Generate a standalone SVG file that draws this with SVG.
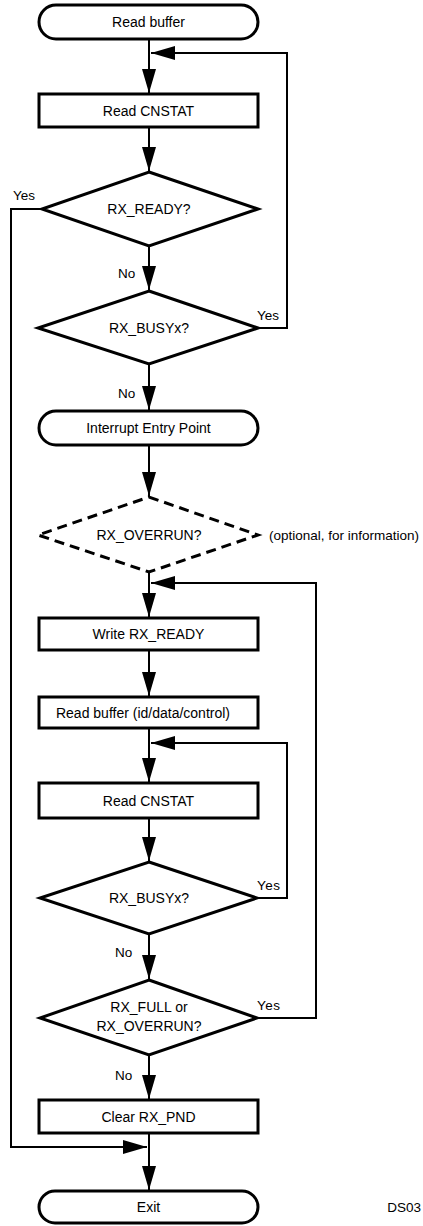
<svg xmlns="http://www.w3.org/2000/svg" width="423" height="1226" viewBox="0 0 423 1226">
<style>
  .shape { fill: #fff; stroke: #000; stroke-width: 3; stroke-linejoin: miter; }
  .dashed { fill: none; stroke: #000; stroke-width: 3; stroke-dasharray: 10 6; }
  .conn { fill: none; stroke: #000; stroke-width: 2; }
  .t { font-family: "Liberation Sans", Arial, sans-serif; font-size: 14px; fill: #000; }
  .l { font-family: "Liberation Sans", Arial, sans-serif; font-size: 13.5px; fill: #000; }
  .c { text-anchor: middle; }
</style>
<defs>
  <marker id="arr" markerUnits="userSpaceOnUse" markerWidth="24" markerHeight="14" refX="24" refY="7" orient="auto">
    <path d="M0,0 L24,7 L0,14 z" fill="#000"/>
  </marker>
</defs>
<rect width="423" height="1226" fill="#fff"/>
<g id="connectors">
  <line class="conn" x1="149" y1="39" x2="149" y2="93" marker-end="url(#arr)"/>
  <line class="conn" x1="149" y1="127" x2="149" y2="171" marker-end="url(#arr)"/>
  <line class="conn" x1="149" y1="246" x2="149" y2="290" marker-end="url(#arr)"/>
  <polyline class="conn" points="258,328 287,328 287,53 151,53" marker-end="url(#arr)"/>
  <polyline class="conn" points="42,209 11,209 11,1147 147,1147" marker-end="url(#arr)"/>
  <line class="conn" x1="149" y1="364" x2="149" y2="410" marker-end="url(#arr)"/>
  <line class="conn" x1="149" y1="445" x2="149" y2="496" marker-end="url(#arr)"/>
  <line class="conn" x1="149" y1="572" x2="149" y2="617" marker-end="url(#arr)"/>
  <polyline class="conn" points="257,1018 316,1018 316,583 151,583" marker-end="url(#arr)"/>
  <line class="conn" x1="149" y1="650" x2="149" y2="696" marker-end="url(#arr)"/>
  <line class="conn" x1="149" y1="728" x2="149" y2="782" marker-end="url(#arr)"/>
  <polyline class="conn" points="257,898 287,898 287,743 151,743" marker-end="url(#arr)"/>
  <line class="conn" x1="149" y1="818" x2="149" y2="861" marker-end="url(#arr)"/>
  <line class="conn" x1="149" y1="934" x2="149" y2="979" marker-end="url(#arr)"/>
  <line class="conn" x1="149" y1="1055" x2="149" y2="1099" marker-end="url(#arr)"/>
  <line class="conn" x1="149" y1="1133" x2="149" y2="1190" marker-end="url(#arr)"/>
  <text class="l" x="13" y="200">Yes</text>
  <text class="l" x="257" y="320">Yes</text>
  <text class="l" x="118" y="278">No</text>
  <text class="l" x="118" y="398">No</text>
  <text class="l" x="257" y="890" letter-spacing="0.5">Yes</text>
  <text class="l" x="115" y="957">No</text>
  <text class="l" x="257" y="1010" letter-spacing="0.5">Yes</text>
  <text class="l" x="115" y="1080">No</text>
</g>
<g id="n_read_buffer">
  <rect class="shape" x="39" y="5" width="219" height="34" rx="17"/>
  <text class="t c" x="148.5" y="27">Read buffer</text>
</g>
<g id="n_read_cnstat1">
  <rect class="shape" x="39" y="94" width="219" height="33"/>
  <text class="t c" x="148.5" y="115.5">Read CNSTAT</text>
</g>
<g id="n_rx_ready">
  <polygon class="shape" points="149,172 258,209 149,246 42,209"/>
  <text class="t c" x="149" y="214">RX_READY?</text>
</g>
<g id="n_rx_busy1">
  <polygon class="shape" points="149,291 258,328 149,364 38,328"/>
  <text class="t c" x="149" y="333">RX_BUSYx?</text>
</g>
<g id="n_interrupt">
  <rect class="shape" x="39" y="411" width="219" height="34" rx="17"/>
  <text class="t c" x="148.5" y="433">Interrupt Entry Point</text>
</g>
<g id="n_rx_overrun">
  <polygon class="dashed" points="149,497 258,535 149,572 38,535"/>
  <text class="t c" x="149" y="540">RX_OVERRUN?</text>
  <text class="l" x="269" y="540">(optional, for information)</text>
</g>
<g id="n_write_rx_ready">
  <rect class="shape" x="39" y="618" width="219" height="32"/>
  <text class="t c" x="148.5" y="639">Write RX_READY</text>
</g>
<g id="n_read_buffer2">
  <rect class="shape" x="39" y="697" width="219" height="31"/>
  <text class="t c" x="143" y="717.5">Read buffer (id/data/control)</text>
</g>
<g id="n_read_cnstat2">
  <rect class="shape" x="39" y="783" width="219" height="35"/>
  <text class="t c" x="148.5" y="805.5">Read CNSTAT</text>
</g>
<g id="n_rx_busy2">
  <polygon class="shape" points="149,862 257,898 149,934 40,898"/>
  <text class="t c" x="149" y="903">RX_BUSYx?</text>
</g>
<g id="n_rx_full">
  <polygon class="shape" points="149,980 257,1018 149,1055 40,1018"/>
  <text class="t c" x="149" y="1012">RX_FULL or</text>
  <text class="t c" x="149" y="1031">RX_OVERRUN?</text>
</g>
<g id="n_clear">
  <rect class="shape" x="39" y="1100" width="219" height="33"/>
  <text class="t c" x="148.5" y="1121.5">Clear RX_PND</text>
</g>
<g id="n_exit">
  <rect class="shape" x="39" y="1191" width="219" height="32" rx="16"/>
  <text class="t c" x="148.5" y="1212">Exit</text>
</g>
<text class="l" x="421" y="1212" text-anchor="end">DS03</text>
</svg>
